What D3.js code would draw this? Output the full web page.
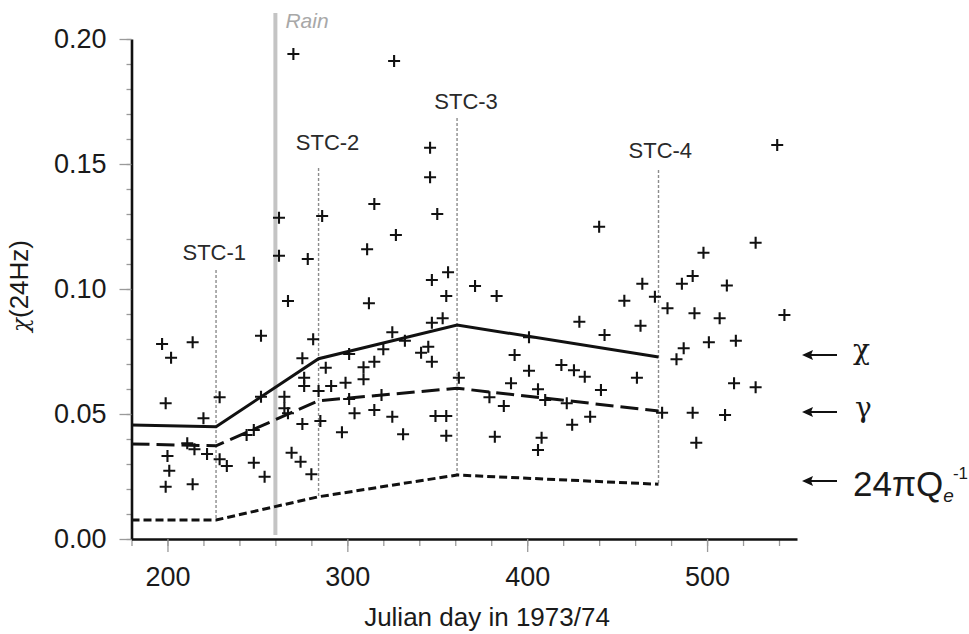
<!DOCTYPE html>
<html>
<head>
<meta charset="utf-8">
<script src="https://cdn.jsdelivr.net/npm/d3@7"></script>
<style>
  html, body { margin: 0; padding: 0; background: #fff; }
  svg { display: block; font-family: "Liberation Sans", Arial, Helvetica, sans-serif; }
</style>
</head>
<body>
<svg id="chart" width="969" height="634"></svg>
<script>
// ---------------- DATA ----------------
const pointDays = [
  270, 262, 286, 262, 278, 326, 346, 346, 315, 350, 327, 311, 347, 356, 371,
  539, 440, 527, 498, 464, 486, 492, 511, 454, 471, 478, 493, 507, 543, 429,
  463, 443, 487, 483, 501, 516, 426, 432, 441, 461, 515, 527, 475, 492, 510,
  494, 435, 425, 355, 383, 312, 347, 353, 325, 332, 320, 341, 345, 347, 401,
  393, 309, 315, 309, 401, 419, 362, 391, 406, 410, 422, 379, 387, 319, 304,
  315, 325, 349, 355, 331, 355, 382, 408, 406, 267, 252, 281, 197, 214, 202,
  275, 301, 288, 276, 276, 291, 299, 284, 199, 229, 252, 265, 265, 267, 301,
  220, 275, 285, 297, 248, 244, 211, 215, 200, 222, 229, 233, 248, 201, 199,
  214, 254, 269, 274, 280
];
const pointValues = [
  0.194, 0.1285, 0.1292, 0.1133, 0.112, 0.1912, 0.1565, 0.1447, 0.134, 0.130, 0.1216, 0.1159, 0.1036, 0.1067, 0.1012,
  0.1576, 0.1249, 0.1185, 0.1145, 0.1021, 0.1021, 0.1052, 0.1014, 0.0953, 0.0969, 0.0923, 0.0903, 0.0883, 0.0896, 0.0869,
  0.0853, 0.0816, 0.0763, 0.0719, 0.0787, 0.0793, 0.0675, 0.0649, 0.0596, 0.0645, 0.0623, 0.0607, 0.0505, 0.0505, 0.0496,
  0.0385, 0.0489, 0.0457, 0.0972, 0.0972, 0.0943, 0.0865, 0.0883, 0.0827, 0.0793, 0.0759, 0.0745, 0.0769, 0.0709, 0.0807,
  0.0736, 0.0687, 0.0709, 0.0639, 0.0673, 0.0696, 0.0645, 0.0623, 0.0599, 0.0556, 0.0543, 0.0567, 0.0532, 0.0576, 0.0503,
  0.0516, 0.0489, 0.0492, 0.0492, 0.0419, 0.0413, 0.0409, 0.0405, 0.0356, 0.0952, 0.0813, 0.0799, 0.078, 0.0787, 0.0725,
  0.0723, 0.074, 0.0685, 0.0645, 0.0612, 0.0612, 0.0625, 0.0592, 0.0543, 0.0567, 0.0569, 0.0569, 0.0523, 0.0503, 0.056,
  0.0483, 0.046, 0.0472, 0.0427, 0.0436, 0.0416, 0.0383, 0.0359, 0.0332, 0.034, 0.0319, 0.0292, 0.0305, 0.0273, 0.0209,
  0.0219, 0.0249, 0.0345, 0.0309, 0.0259
];

const lineDays   = [180, 227, 284, 361, 473];
const chiValues  = [0.0456, 0.0449, 0.0721, 0.0856, 0.0728];
const gammaValues = [0.0380, 0.0373, 0.0553, 0.0603, 0.0512];
const qValues    = [0.0076, 0.0076, 0.0169, 0.0256, 0.0219];

const stcNames   = ["STC-1", "STC-2", "STC-3", "STC-4"];
const stcDays    = [227, 284, 361, 473];
const stcTop     = [0.1076, 0.1484, 0.1684, 0.1476];
const stcBottom  = [0.0076, 0.0169, 0.0256, 0.0219];
const stcLabelDay = [226, 289, 366, 474];
const stcLabelVal = [0.1116, 0.1556, 0.1720, 0.1524];

const rainDay = 260;
const rainRange = [0.0016, 0.2104];

const yTicks = [0.00, 0.05, 0.10, 0.15, 0.20];
const yMinorTicks = d3.range(0, 0.2001, 0.01);
const xTicks = [200, 300, 400, 500];
const xMinorTicks = d3.range(180, 551, 20);

const legendNames = ["χ", "γ", "24πQ"];
const legendVals  = [0.0736, 0.0508, 0.0232];

// ---------------- CHART ----------------
const svg = d3.select("#chart");
const x = d3.scaleLinear().domain([180, 550]).range([131.5, 797]);
const y = d3.scaleLinear().domain([0, 0.2]).range([539, 39]);
const X0 = 131.5, Y0 = 539;
const SANS = "'Liberation Sans', Arial, Helvetica, sans-serif";
const GREEK = "'DejaVu Serif', 'Liberation Serif', serif";

// minor ticks
const yMinor = svg.append("g").attr("transform", `translate(${X0},0)`)
  .call(d3.axisLeft(y).tickValues(yMinorTicks).tickSize(5).tickFormat("").tickSizeOuter(0));
const xMinor = svg.append("g").attr("transform", `translate(0,${Y0})`)
  .call(d3.axisBottom(x).tickValues(xMinorTicks).tickSize(7).tickFormat("").tickSizeOuter(0));
[yMinor, xMinor].forEach(g => {
  g.select(".domain").remove();
  g.selectAll(".tick line").attr("stroke", "#9a9a9a").attr("stroke-width", 1.3);
});

// major axes
const yAxis = svg.append("g").attr("transform", `translate(${X0},0)`)
  .call(d3.axisLeft(y).tickValues(yTicks).tickSize(12).tickPadding(13)
        .tickFormat(d3.format(".2f")).tickSizeOuter(0));
const xAxis = svg.append("g").attr("transform", `translate(0,${Y0})`)
  .call(d3.axisBottom(x).tickValues(xTicks).tickSize(13).tickPadding(15)
        .tickFormat(d3.format("d")).tickSizeOuter(0));
[yAxis, xAxis].forEach(g => {
  g.attr("font-family", null).attr("font-size", null);
  g.select(".domain").attr("stroke", "#111").attr("stroke-width", 2.6);
  g.selectAll(".tick line").attr("stroke", "#9a9a9a").attr("stroke-width", 1.3);
  g.selectAll(".tick text").attr("fill", "#1a1a1a")
    .style("font-size", "27px").style("font-family", SANS);
});

// axis titles
const yl = svg.append("text")
  .attr("transform", "translate(28,286) rotate(-90)")
  .attr("text-anchor", "middle").style("font-size", "26px").attr("fill", "#1a1a1a");
yl.append("tspan").style("font-family", GREEK).style("font-style", "italic")
  .style("font-size", "23px").text("χ");
yl.append("tspan").text("(24Hz)");
svg.append("text")
  .attr("x", 487).attr("y", 626)
  .attr("text-anchor", "middle").style("font-size", "26px").attr("fill", "#1a1a1a")
  .text("Julian day in 1973/74");

// rain line
svg.append("line")
  .attr("x1", x(rainDay)).attr("x2", x(rainDay))
  .attr("y1", y(rainRange[1])).attr("y2", y(rainRange[0]))
  .attr("stroke", "#c4c4c4").attr("stroke-width", 4);
svg.append("text")
  .attr("x", x(rainDay) + 10).attr("y", 28)
  .style("font-size", "21px").style("font-style", "italic").attr("fill", "#a8a8a8")
  .text("Rain");

// STC dotted lines & labels
stcDays.forEach((d, i) => {
  svg.append("line")
    .attr("x1", x(d)).attr("x2", x(d))
    .attr("y1", y(stcTop[i])).attr("y2", y(stcBottom[i]))
    .attr("stroke", "#8c8c8c").attr("stroke-width", 1.4)
    .attr("stroke-dasharray", "3,2");
  svg.append("text")
    .attr("x", x(stcLabelDay[i])).attr("y", y(stcLabelVal[i]))
    .attr("text-anchor", "middle").style("font-size", "22px").attr("fill", "#2a2a2a")
    .text(stcNames[i]);
});

// scatter points
const pts = pointDays.map((d, i) => [d, pointValues[i]]);
svg.append("g").selectAll("path").data(pts).join("path")
  .attr("d", p => {
    const cx = x(p[0]), cy = y(p[1]), s = 6;
    return `M${cx - s},${cy}H${cx + s}M${cx},${cy - s}V${cy + s}`;
  })
  .attr("stroke", "#111").attr("stroke-width", 2.1).attr("fill", "none");

// model lines
const lineGen = d3.line().x(d => x(d[0])).y(d => y(d[1]));
const series = [
  { vals: chiValues, dash: null },
  { vals: gammaValues, dash: "18,7" },
  { vals: qValues, dash: "8,4" }
];
series.forEach(s => {
  svg.append("path")
    .datum(lineDays.map((d, i) => [d, s.vals[i]]))
    .attr("d", lineGen)
    .attr("fill", "none").attr("stroke", "#111").attr("stroke-width", 3)
    .attr("stroke-dasharray", s.dash);
});

// legend arrows and labels
legendVals.forEach((v, i) => {
  const ay = y(v), x1 = 802, x2 = 837;
  svg.append("path")
    .attr("d", `M${x1 + 2},${ay}H${x2}`)
    .attr("stroke", "#111").attr("stroke-width", 2).attr("fill", "none");
  svg.append("path")
    .attr("d", `M${x1},${ay}L${x1 + 11},${ay - 5}L${x1 + 9},${ay}L${x1 + 11},${ay + 5}Z`)
    .attr("fill", "#111");
});
svg.append("text").attr("x", 853).attr("y", y(legendVals[0]) + 4)
  .style("font-size", "28px").style("font-family", GREEK).attr("fill", "#1a1a1a").text(legendNames[0]);
svg.append("text").attr("x", 855).attr("y", y(legendVals[1]) + 5)
  .style("font-size", "28px").style("font-family", GREEK).attr("fill", "#1a1a1a").text(legendNames[1]);
const q = svg.append("text").attr("x", 853).attr("y", y(legendVals[2]) + 15)
  .style("font-size", "35px").attr("fill", "#1a1a1a");
q.append("tspan").text(legendNames[2]);
q.append("tspan").style("font-size", "19px").style("font-style", "italic").attr("dy", 6).text("e");
q.append("tspan").style("font-size", "17px").attr("dy", -23).attr("dx", -1).text("-1");
</script>
</body>
</html>
